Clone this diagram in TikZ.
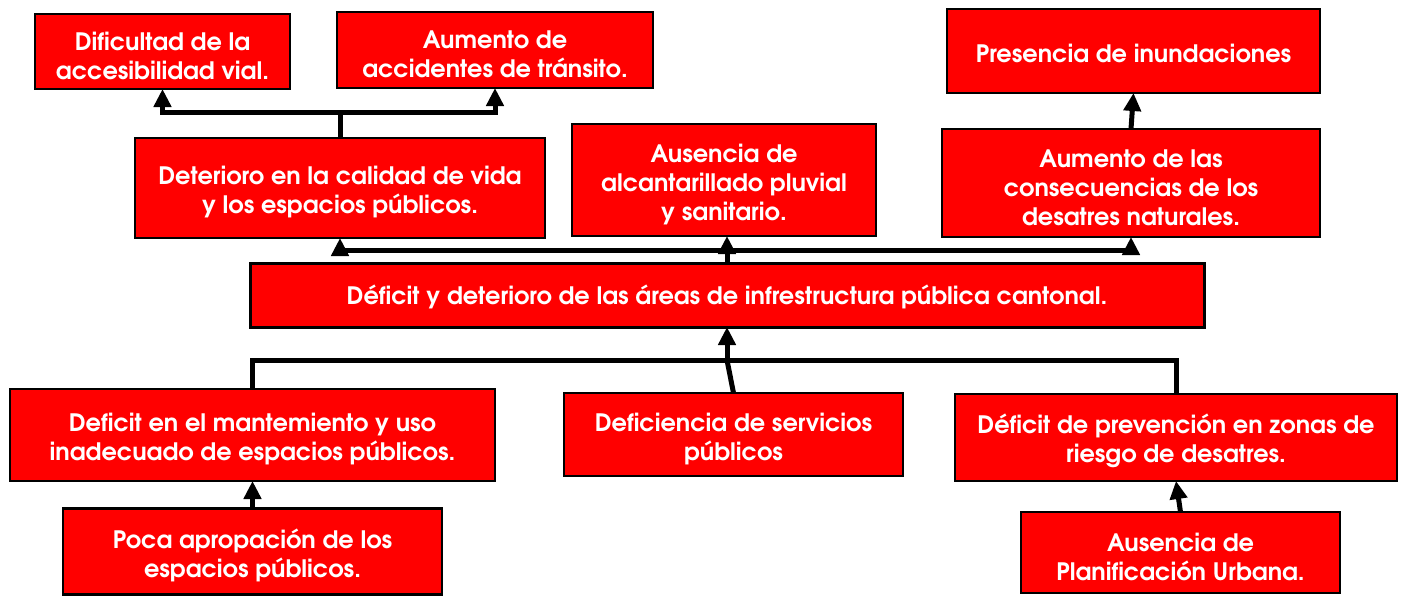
\documentclass[tikz,border=0pt]{standalone}
\usepackage{fontspec}
\setmainfont{TeX Gyre Adventor}
\usetikzlibrary{arrows.meta}
\newcommand{\myup}{\rule{0pt}{27pt}}
\tikzset{
  box/.style={draw=black, line width=2.5pt, fill=red, text=white, font=\fontsize{24}{29}\selectfont\bfseries, align=center, inner sep=0pt, outer sep=0pt, execute at begin node={\rule{0pt}{24pt}}},
  mbox/.style={draw=black, line width=2.5pt, fill=red, text=white, font=\fontsize{24}{29}\selectfont\bfseries, align=center, inner sep=0pt, outer sep=0pt},
  conn/.style={line width=5pt, draw=black},
  arr/.style={conn, -{Triangle[width=17pt,length=18pt]}}
}
\begin{document}
\begin{tikzpicture}[x=1pt,y=-1pt]
\useasboundingbox (0,0) rectangle (1406,595);
\node[mbox, minimum width=255, minimum height=75] (b1) at (162.5,51.5) {\myup Dificultad de la\\accesibilidad vial.};
\node[mbox, minimum width=316, minimum height=76] (b2) at (495,50) {\myup Aumento de\\accidentes de tránsito.};
\node[box, minimum width=373, minimum height=84] (b3) at (1133.5,51) {Presencia de inundaciones};
\node[mbox, minimum width=410, minimum height=100] (b4) at (340,188) {\myup Deterioro en la calidad de vida\\y los espacios públicos.};
\node[mbox, minimum width=304, minimum height=112] (b5) at (724,180) {\myup Ausencia de\\alcantarillado pluvial\\y sanitario.};
\node[mbox, minimum width=378, minimum height=108] (b6) at (1131,183) {\myup Aumento de las\\consecuencias de los\\desatres naturales.};
\node[box, line width=3pt, minimum width=954, minimum height=64] (b7) at (727,295) {Déficit y deterioro de las áreas de infrestructura pública cantonal.};
\node[mbox, minimum width=485, minimum height=92] (b8) at (252.5,435) {\myup Deficit en el mantemiento y uso\\inadecuado de espacios públicos.};
\node[mbox, minimum width=339, minimum height=83] (b9) at (733.5,434.5) {\myup Deficiencia de servicios\\públicos};
\node[mbox, minimum width=442, minimum height=87] (b10) at (1176,437.5) {\myup Déficit de prevención en zonas de\\riesgo de desatres.};
\node[mbox, minimum width=379, minimum height=86] (b11) at (252.5,551.5) {\myup Poca apropación de los\\espacios públicos.};
\node[mbox, minimum width=319, minimum height=81] (b12) at (1180.5,552.5) {\myup Ausencia de\\Planificación Urbana.};
% top-left connectors
\coordinate (j1) at (340,112);
\draw[conn] (b4.north -| j1) -- (j1);
\draw[arr] (j1) -| (b1.south);
\draw[arr] (j1) -| (b2.south);
% from central box upward
\coordinate (j2) at (727,250);
\draw[arr] (b7.north) -- (b7.north |- b5.south);
\draw[arr] (j2) -| (b4.south);
\draw[arr] (j2) -| (b6.south);
% b6 -> b3
\draw[arr] (b6.north) -- (b3.south);
% bottom level into central box
\coordinate (j3) at (727,360);
\draw[arr] (j3) -- (b7.south);
\draw[conn] (b8.north) |- (j3);
\draw[conn] (b10.north) |- (j3);
\draw[conn] (b9.north) -- (j3);
% lowest boxes
\draw[arr] (b11.north) -- (b8.south);
\draw[arr] (b12.north) -- (b10.south);
\end{tikzpicture}
\end{document}
